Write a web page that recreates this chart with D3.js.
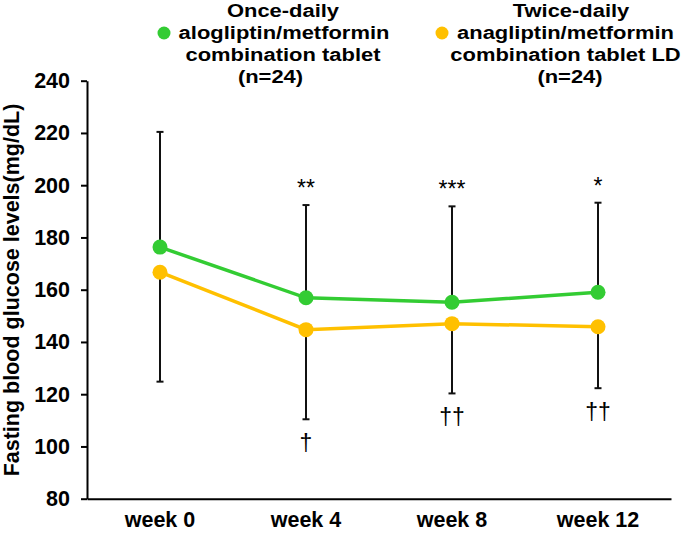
<!DOCTYPE html>
<html><head><meta charset="utf-8">
<script src="https://cdn.jsdelivr.net/npm/d3@7"></script>
<style>body{margin:0;background:#fff}svg{display:block}text{font-family:"Liberation Sans",Arial,sans-serif}</style>
</head><body>
<svg id="c" width="685" height="533"></svg>
<script>
const weeks = ["week 0","week 4","week 8","week 12"];
const alogliptinMean = [176.3, 156.9, 155.2, 159.0];
const alogliptinSD   = [44.1, 35.5, 36.7, 34.3];
const anagliptinMean = [166.7, 144.7, 147.0, 145.8];
const anagliptinSD   = [41.9, 34.3, 26.7, 23.5];
const alogliptinSig  = ["", "**", "***", "*"];
const anagliptinSig  = ["", "†", "††", "††"];
const yTicks = [80,100,120,140,160,180,200,220,240];
const legendLeft  = ["Once-daily","alogliptin/metformin","combination tablet","(n=24)"];
const legendRight = ["Twice-daily","anagliptin/metformin","combination tablet LD","(n=24)"];

const GREEN = "#33CC33", GOLD = "#FFC000";
const svg = d3.select("#c");
const x = d3.scaleBand().domain(weeks).range([87, 671]).padding(0);
const y = d3.scaleLinear().domain([80, 240]).range([498.7, 80.7]);
const cx = d => x(d) + x.bandwidth()/2;

// axes
const ya = svg.append("g").attr("transform","translate(87,0)")
  .call(d3.axisLeft(y).tickValues(yTicks).tickSize(6).tickSizeOuter(0).tickPadding(11));
const xa = svg.append("g").attr("transform","translate(0,498.7)")
  .call(d3.axisBottom(x).tickSize(0).tickSizeOuter(0).tickPadding(13.5));
[ya, xa].forEach(g => {
  g.selectAll("path,line").attr("stroke","#000").attr("stroke-width",2);
  g.selectAll("text").attr("fill","#000").style("font-size","21.5px").style("font-weight","bold")
   .style("font-family","'Liberation Sans',Arial,sans-serif");
});

svg.append("text").attr("transform","rotate(-90)").attr("x",-290).attr("y",19)
  .attr("text-anchor","middle").style("font-size","21.5px").style("font-weight","bold")
  .text("Fasting blood glucose levels(mg/dL)");

// error bars
function errBars(mean, sd, dir) {
  const g = svg.append("g").attr("stroke","#111").attr("stroke-width",2);
  weeks.forEach((w,i) => {
    const y0 = y(mean[i]), y1 = y(mean[i] + dir*sd[i]);
    g.append("line").attr("x1",cx(w)).attr("x2",cx(w)).attr("y1",y0).attr("y2",y1);
    g.append("line").attr("x1",cx(w)-3.5).attr("x2",cx(w)+3.5).attr("y1",y1).attr("y2",y1);
  });
}
errBars(alogliptinMean, alogliptinSD, 1);
errBars(anagliptinMean, anagliptinSD, -1);

// lines + markers
function series(mean, color) {
  const line = d3.line().x((d,i)=>cx(weeks[i])).y(d=>y(d));
  svg.append("path").datum(mean).attr("d",line).attr("fill","none")
    .attr("stroke",color).attr("stroke-width",3.5);
  svg.append("g").selectAll("circle").data(mean).join("circle")
    .attr("cx",(d,i)=>cx(weeks[i])).attr("cy",d=>y(d)).attr("r",7.5).attr("fill",color);
}
series(anagliptinMean, GOLD);
series(alogliptinMean, GREEN);

// significance marks
weeks.forEach((w,i) => {
  if (alogliptinSig[i]) svg.append("text").attr("x",cx(w)).attr("y",y(alogliptinMean[i]+alogliptinSD[i])-9)
    .attr("text-anchor","middle").attr("fill","#000").style("font-size","23px").text(alogliptinSig[i]);
  if (anagliptinSig[i]) svg.append("text").attr("x",cx(w)).attr("y",y(anagliptinMean[i]-anagliptinSD[i])+32)
    .attr("text-anchor","middle").attr("fill","#000").style("font-size","23px").text(anagliptinSig[i]);
});

// legend
const baselines = [17, 39, 61, 83];
const leftCenters = [283, 284, 283, 270.5];
const rightCenters = [571, 565.5, 565.5, 570];
function legend(lines, centers, color, dotX) {
  lines.forEach((t,i) => {
    svg.append("text").attr("transform",`translate(${centers[i]},${baselines[i]}) scale(1.18,1)`)
      .attr("text-anchor","middle").attr("fill","#000").style("font-size","18.6px").style("font-weight","bold").text(t);
  });
  svg.append("circle").attr("cx",dotX).attr("cy",33).attr("r",6.5).attr("fill",color);
}
legend(legendLeft, leftCenters, GREEN, 164);
legend(legendRight, rightCenters, GOLD, 442);
</script>
</body></html>
